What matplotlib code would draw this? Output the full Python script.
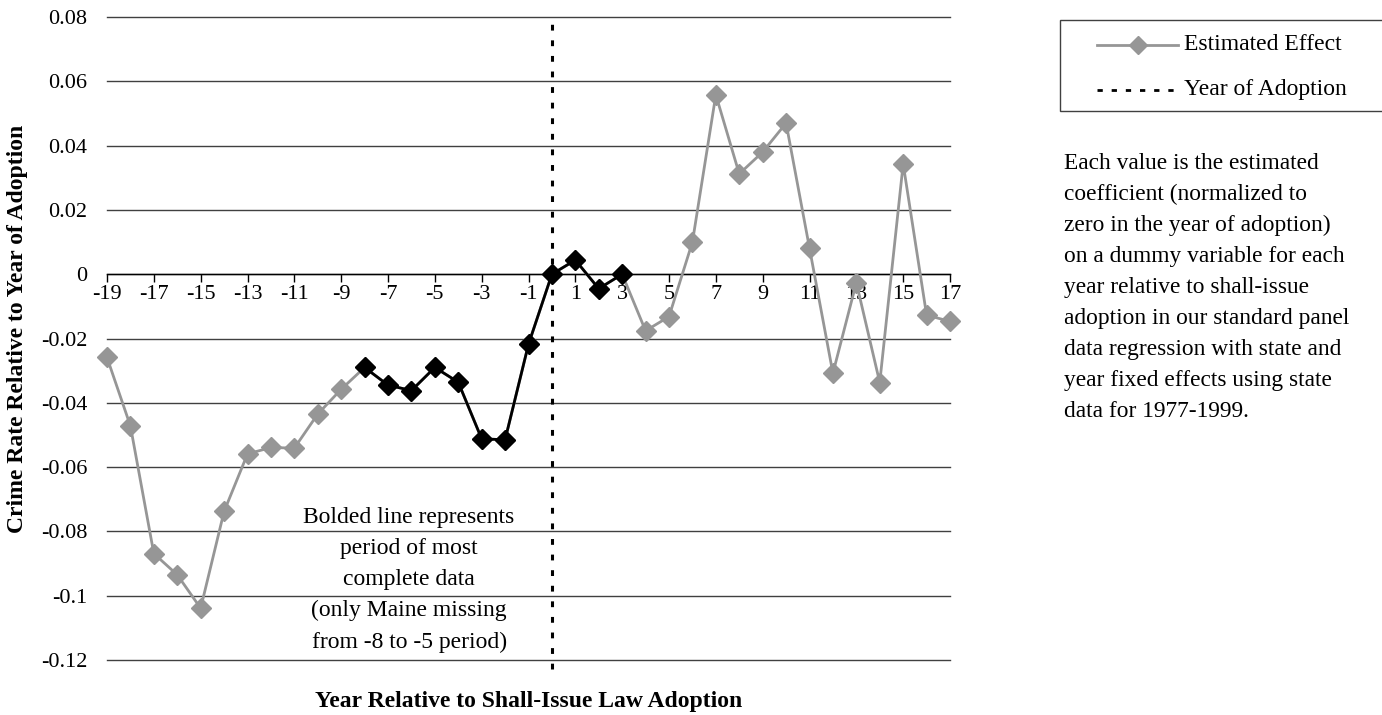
import matplotlib
matplotlib.use("Agg")
from matplotlib import pyplot as plt
from matplotlib.lines import Line2D
from matplotlib.patches import Rectangle

plt.rcParams['font.family'] = ['Liberation Serif', 'DejaVu Serif']

# leta glede na sprejetje zakona in ocenjeni učinki
leta = list(range(-19, 18))
ucinek = [-0.0259, -0.0472, -0.0869, -0.0935, -0.1039, -0.0738, -0.0559, -0.0539,
          -0.0541, -0.0435, -0.0358, -0.0290, -0.0345, -0.0362, -0.0290, -0.0336,
          -0.0512, -0.0515, -0.0218, 0.0, 0.0044, -0.0045, 0.0, -0.0176,
          -0.0132, 0.0100, 0.0558, 0.0312, 0.0380, 0.0470, 0.0081, -0.0308,
          -0.0026, -0.0337, 0.0343, -0.0127, -0.0147]
# obdobje najbolj popolnih podatkov
zacetek, konec = -8, 3
y_ticks = [0.08, 0.06, 0.04, 0.02, 0, -0.02, -0.04, -0.06, -0.08, -0.1, -0.12]
y_oznake = ['0.08', '0.06', '0.04', '0.02', '0', '-0.02', '-0.04', '-0.06', '-0.08', '-0.1', '-0.12']
x_ticks = list(range(-19, 18, 2))

siva = '#969696'
crtkano = (0, (1.9, 3.2))
W, H = 1382, 715


def px(x, y):
    # piksli -> delež slike
    return x / W, 1 - y / H


fig = plt.figure(figsize=(W / 100, H / 100), dpi=100)
ax = fig.add_axes([107 / W, 1 - 660 / H, 843 / W, 643 / H])

ax.plot(leta, ucinek, color=siva, lw=2, marker='D', ms=10, clip_on=False, zorder=3)
izbor = [i for i, l in enumerate(leta) if zacetek <= l <= konec]
ax.plot([leta[i] for i in izbor], [ucinek[i] for i in izbor], color='black', lw=2,
        marker='D', ms=10, clip_on=False, zorder=4)

ax.axvline(0, ymin=-0.014, ymax=1, color='black', lw=2.2, ls=crtkano,
           clip_on=False, zorder=5)

ax.set_xlim(-19, 17)
ax.set_ylim(-0.12, 0.08)
ax.set_yticks(y_ticks)
ax.set_yticklabels(y_oznake)
ax.set_xticks(x_ticks)
ax.set_xticklabels([str(t) for t in x_ticks])
ax.tick_params(axis='y', length=0, pad=14, labelsize=16)
ax.tick_params(axis='x', length=6, width=1, direction='out', pad=2, labelsize=16)
ax.grid(axis='y', color='#404040', lw=1)
for gl in ax.get_ygridlines():
    gl.set_clip_on(False)
ax.set_axisbelow(True)
for s in ['top', 'right', 'left']:
    ax.spines[s].set_visible(False)
ax.spines['bottom'].set_position(('data', 0))
ax.spines['bottom'].set_linewidth(1)

ax.text(-6.1, -0.0951, 'Bolded line represents\nperiod of most\ncomplete data\n(only Maine missing\nfrom -8 to -5 period)',
        ha='center', va='center', fontsize=17, linespacing=1.62)

fig.text(*px(18, 329), 'Crime Rate Relative to Year of Adoption', rotation=90,
         ha='center', va='center', fontsize=17, fontweight='bold')
fig.text(*px(529, 701), 'Year Relative to Shall-Issue Law Adoption',
         ha='center', va='center', fontsize=17, fontweight='bold')

# legenda, narisana ročno (okvir sega čez desni rob)
okvir = Rectangle(px(1060, 111), 400 / W, 91 / H, transform=fig.transFigure,
                  facecolor='white', edgecolor='#404040', lw=1, clip_on=False)
fig.patches.append(okvir)
x0, x1 = px(1097, 0)[0], px(1178, 0)[0]
y1 = px(0, 45)[1]
y2 = px(0, 90)[1]
fig.add_artist(Line2D([x0, x1], [y1, y1], color=siva, lw=2, transform=fig.transFigure))
fig.add_artist(Line2D([(x0 + x1) / 2], [y1], color=siva, marker='D', ms=9, transform=fig.transFigure))
fig.add_artist(Line2D([x0, x1], [y2, y2], color='black', lw=2, ls=crtkano, transform=fig.transFigure))
fig.text(px(1184, 0)[0], y1, 'Estimated Effect', ha='left', va='center', fontsize=17)
fig.text(px(1184, 0)[0], y2, 'Year of Adoption', ha='left', va='center', fontsize=17)

fig.text(*px(1064, 153),
         'Each value is the estimated\ncoefficient (normalized to\nzero in the year of adoption)\n'
         'on a dummy variable for each\nyear relative to shall-issue\nadoption in our standard panel\n'
         'data regression with state and\nyear fixed effects using state\ndata for 1977-1999.',
         ha='left', va='top', fontsize=16.8, linespacing=1.62)

fig.savefig('out.png', dpi=100)
